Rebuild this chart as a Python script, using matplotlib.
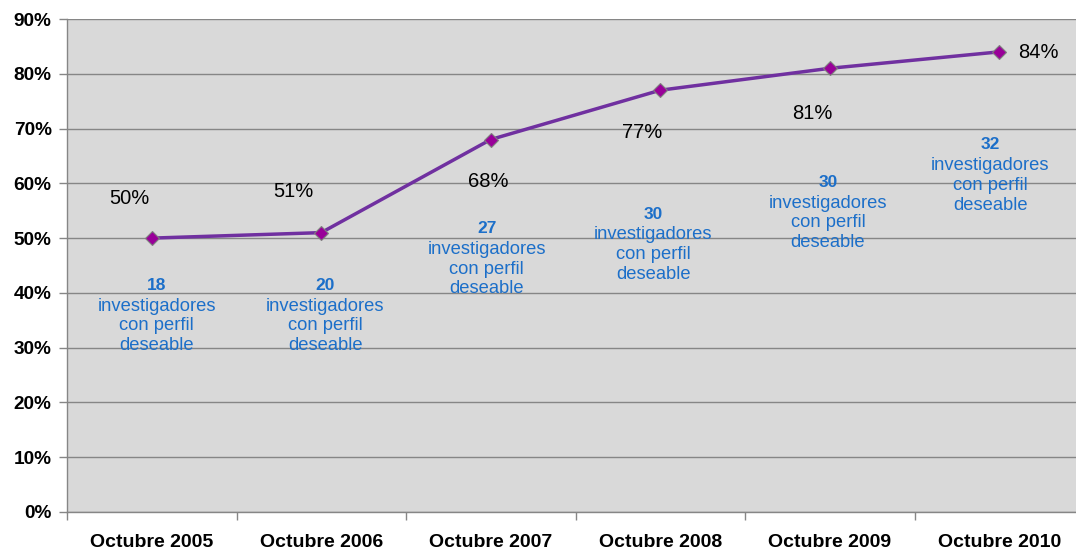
import matplotlib.pyplot as plt
import numpy as np

categorias = ['Octubre 2005', 'Octubre 2006', 'Octubre 2007',
              'Octubre 2008', 'Octubre 2009', 'Octubre 2010']
porcentaje = [50, 51, 68, 77, 81, 84]
investigadores = [18, 20, 27, 30, 30, 32]

# posiciones de las etiquetas (desplazamiento x en categorias, y en %)
pos_pct = [(-0.13, 57.3), (-0.165, 58.6), (-0.015, 60.4), (-0.107, 69.2), (-0.10, 72.7), (0.23, 83.8)]
pos_inv = [(0.03, 41.4), (0.024, 41.4), (-0.024, 51.7), (-0.04, 54.4), (-0.01, 60.2), (-0.054, 67.0)]

plt.rcParams['font.family'] = ['Liberation Sans', 'DejaVu Sans']

fig = plt.figure(figsize=(10.76, 5.49), dpi=100)
ax = fig.add_axes([67 / 1076, 1 - 512 / 549, 1017 / 1076, 493 / 549])
ax.set_facecolor('#d9d9d9')

x = np.arange(len(categorias))
ax.plot(x, porcentaje, color='#7030a0', linewidth=2.5, zorder=3)
ax.plot(x, porcentaje, linestyle='none', marker='D', markersize=7,
        markerfacecolor='#990099', markeredgecolor='#7f7f7f', markeredgewidth=0.8, zorder=4)

for i, v in enumerate(porcentaje):
    dx, y = pos_pct[i]
    ax.text(i + dx, y, f'{v}%', ha='center', va='center', fontsize=14.5, color='black')

px = 90 / 493  # % por pixel
for i, n in enumerate(investigadores):
    dx, y = pos_inv[i]
    ax.text(i + dx, y, str(n), ha='center', va='center', fontsize=12.5,
            fontweight='bold', color='#1c6fc9')
    ax.text(i + dx, y - 40.5 * px, 'investigadores\ncon perfil\ndeseable', ha='center',
            va='center', fontsize=13.2, color='#1c6fc9', linespacing=1.2)

ax.set_xlim(-0.5, 5.5)
ax.set_ylim(0, 90)
ax.set_yticks(np.arange(0, 91, 10))
ax.set_yticklabels([f'{v}%' for v in range(0, 91, 10)], fontsize=13.7, fontweight='bold')
ax.yaxis.grid(True, color='#868686', linewidth=1)
ax.set_axisbelow(True)

ax.set_xticks(x)
ax.set_xticklabels(categorias, fontsize=14, fontweight='bold')
ax.tick_params(axis='x', length=0, pad=15.5)
ax.set_xticks(np.arange(-0.5, 6, 1), minor=True)
ax.tick_params(axis='x', which='minor', length=6, color='#868686', width=1)
ax.tick_params(axis='y', length=6, color='#868686', width=1, pad=5)

for s in ['top', 'right']:
    ax.spines[s].set_visible(False)
for s in ['left', 'bottom']:
    ax.spines[s].set_color('#868686')
    ax.spines[s].set_linewidth(1)

plt.savefig('out.png', dpi=100)
